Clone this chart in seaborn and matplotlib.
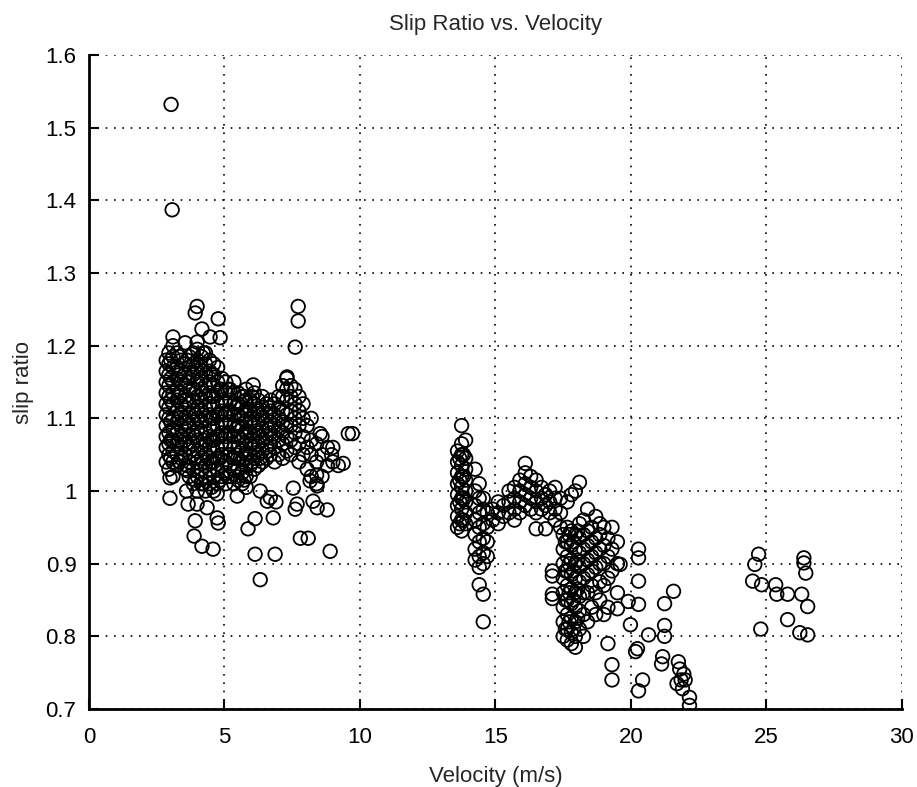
import pandas as pd
import seaborn as sns
import matplotlib.pyplot as plt

# values: (velocity, [slip ratios at that velocity])
low_speed_cols = [
    (2.85, [1.04, 1.06, 1.075, 1.09, 1.105, 1.12, 1.135, 1.15, 1.165, 1.18]),
    (2.95, [1.03, 1.05, 1.065, 1.08, 1.10, 1.115, 1.13, 1.145, 1.16, 1.175, 1.19]),
    (3.02, [1.045, 1.07, 1.095, 1.125, 1.155, 1.18]),
    (3.10, [1.02, 1.04, 1.055, 1.07, 1.085, 1.10, 1.12, 1.135, 1.15, 1.17, 1.185, 1.20]),
    (3.25, [1.035, 1.05, 1.065, 1.08, 1.095, 1.11, 1.125, 1.14, 1.155, 1.17, 1.19]),
    (3.33, [1.04, 1.07, 1.10, 1.13, 1.16, 1.185]),
    (3.40, [1.045, 1.06, 1.075, 1.09, 1.105, 1.12, 1.135, 1.15, 1.165, 1.18]),
    (3.55, [1.03, 1.05, 1.07, 1.085, 1.10, 1.115, 1.13, 1.145, 1.16, 1.175]),
    (3.62, [1.035, 1.065, 1.095, 1.125, 1.15, 1.18]),
    (3.70, [1.02, 1.04, 1.06, 1.075, 1.09, 1.105, 1.12, 1.14, 1.155, 1.17, 1.185]),
    (3.85, [1.01, 1.03, 1.05, 1.065, 1.08, 1.095, 1.11, 1.125, 1.14, 1.16, 1.175, 1.19]),
    (3.93, [1.015, 1.045, 1.075, 1.105, 1.135, 1.17]),
    (4.00, [1.00, 1.02, 1.04, 1.055, 1.07, 1.085, 1.10, 1.115, 1.13, 1.15, 1.165, 1.18, 1.195]),
    (4.15, [1.01, 1.03, 1.045, 1.06, 1.08, 1.095, 1.11, 1.125, 1.14, 1.155, 1.17, 1.185]),
    (4.22, [1.01, 1.04, 1.07, 1.105, 1.135, 1.165, 1.19]),
    (4.30, [1.00, 1.02, 1.035, 1.05, 1.065, 1.08, 1.10, 1.115, 1.13, 1.145, 1.16, 1.175, 1.19]),
    (4.45, [1.01, 1.03, 1.045, 1.06, 1.075, 1.09, 1.105, 1.12, 1.135, 1.15, 1.165, 1.18]),
    (4.52, [1.005, 1.04, 1.07, 1.10, 1.13, 1.16]),
    (4.60, [1.00, 1.02, 1.04, 1.055, 1.07, 1.085, 1.10, 1.115, 1.13, 1.145, 1.16, 1.175]),
    (4.75, [1.01, 1.03, 1.045, 1.06, 1.075, 1.09, 1.105, 1.12, 1.135, 1.15, 1.17]),
    (4.83, [1.015, 1.045, 1.075, 1.105, 1.14]),
    (4.90, [1.02, 1.035, 1.05, 1.065, 1.08, 1.095, 1.11, 1.125, 1.14, 1.155]),
    (5.05, [1.01, 1.025, 1.04, 1.06, 1.075, 1.09, 1.105, 1.12, 1.135, 1.15]),
    (5.12, [1.02, 1.05, 1.08, 1.11, 1.14]),
    (5.20, [1.02, 1.035, 1.05, 1.065, 1.08, 1.095, 1.11, 1.125, 1.14]),
    (5.35, [1.01, 1.03, 1.045, 1.06, 1.075, 1.09, 1.105, 1.12, 1.135, 1.15]),
    (5.42, [1.02, 1.05, 1.085, 1.115]),
    (5.50, [1.015, 1.03, 1.045, 1.06, 1.075, 1.09, 1.105, 1.12, 1.135]),
    (5.65, [1.01, 1.025, 1.04, 1.055, 1.07, 1.085, 1.10, 1.115, 1.13]),
    (5.72, [1.015, 1.045, 1.075, 1.105, 1.13]),
    (5.80, [1.005, 1.02, 1.035, 1.05, 1.065, 1.08, 1.095, 1.11, 1.125, 1.14]),
    (5.95, [1.02, 1.035, 1.05, 1.065, 1.08, 1.095, 1.11, 1.125]),
    (6.02, [1.04, 1.07, 1.10, 1.13]),
    (6.10, [1.03, 1.045, 1.06, 1.075, 1.09, 1.105, 1.12, 1.135]),
    (6.25, [1.035, 1.05, 1.065, 1.08, 1.095, 1.11, 1.125]),
    (6.33, [1.045, 1.075, 1.105]),
    (6.40, [1.04, 1.055, 1.07, 1.085, 1.10, 1.115, 1.13]),
    (6.55, [1.045, 1.06, 1.075, 1.09, 1.105, 1.12]),
    (6.62, [1.055, 1.085, 1.115]),
    (6.70, [1.05, 1.065, 1.08, 1.095, 1.11, 1.125]),
    (6.85, [1.04, 1.06, 1.075, 1.09, 1.105, 1.12]),
    (7.00, [1.05, 1.07, 1.085, 1.10, 1.115, 1.13]),
    (7.15, [1.045, 1.065, 1.08, 1.095, 1.11, 1.13, 1.145]),
    (7.30, [1.055, 1.075, 1.09, 1.105, 1.125, 1.14, 1.155]),
    (7.45, [1.05, 1.07, 1.09, 1.11, 1.13, 1.145]),
    (7.60, [1.06, 1.08, 1.10, 1.12, 1.14]),
    (7.75, [1.04, 1.065, 1.09, 1.11, 1.13]),
    (7.90, [1.05, 1.075, 1.10, 1.12]),
    (8.05, [1.03, 1.06, 1.09]),
    (8.20, [1.02, 1.05, 1.07, 1.10]),
    (8.40, [1.01, 1.04, 1.065]),
    (8.60, [1.02, 1.05, 1.075]),
    (8.80, [1.035, 1.06]),
    (9.00, [1.04, 1.06]),
]

low_speed_scatter_v = [3.03, 3.07, 3.99, 3.92, 4.77, 4.17, 4.47, 4.84, 3.10, 3.55, 3.99,
                       7.72, 7.72, 7.61, 6.06, 7.31, 9.57, 9.72, 9.38, 8.53,
                       2.99, 2.99, 3.66, 3.92, 3.88, 4.17, 4.58, 4.73, 4.77, 4.36,
                       5.87, 6.13, 6.13, 6.87, 6.32, 6.80, 6.58, 7.61, 8.42, 8.79,
                       7.80, 8.09, 8.90, 8.27, 8.42, 3.62, 3.60, 3.99, 4.73, 5.47,
                       6.32, 6.69, 6.90, 7.68, 7.54, 8.16, 8.40, 9.20, 8.95]
low_speed_scatter_slip = [1.532, 1.387, 1.254, 1.245, 1.237, 1.223, 1.212, 1.211, 1.212, 1.204, 1.205,
                          1.254, 1.234, 1.198, 1.146, 1.157, 1.079, 1.079, 1.038, 1.079,
                          0.990, 1.018, 0.982, 0.959, 0.938, 0.924, 0.920, 0.963, 0.956, 0.977,
                          0.948, 0.962, 0.913, 0.913, 0.878, 0.963, 0.986, 0.975, 0.977, 0.974,
                          0.935, 0.935, 0.917, 0.986, 1.007, 1.028, 1.000, 0.982, 0.996, 0.993,
                          1.000, 0.991, 0.985, 0.982, 1.004, 1.014, 1.022, 1.035, 1.05]

mid_speed_cols = [
    (13.60, [0.95, 0.965, 0.98, 0.995, 1.01, 1.025, 1.04, 1.055]),
    (13.68, [0.955, 0.985, 1.015, 1.045]),
    (13.75, [0.945, 0.96, 0.975, 0.99, 1.005, 1.02, 1.035, 1.05, 1.065, 1.09]),
    (13.82, [0.96, 0.99, 1.02, 1.05]),
    (13.90, [0.955, 0.97, 0.985, 1.00, 1.015, 1.03, 1.045, 1.07]),
    (14.25, [1.03, 1.00, 0.98, 0.96, 0.94, 0.92, 0.905]),
    (14.40, [1.01, 0.99, 0.97, 0.95, 0.93, 0.91, 0.895, 0.871]),
    (14.55, [0.99, 0.975, 0.955, 0.935, 0.915, 0.90, 0.858, 0.82]),
    (14.70, [0.97, 0.95, 0.93, 0.91]),
    (14.90, [0.96, 0.975]),
    (15.10, [0.955, 0.97, 0.985]),
    (15.30, [0.965, 0.98]),
    (15.50, [0.97, 0.985, 1.00]),
    (15.70, [0.96, 0.975, 0.99, 1.005]),
    (15.90, [0.97, 0.985, 1.00, 1.015]),
    (16.10, [0.98, 0.995, 1.01, 1.025, 1.038]),
    (16.30, [0.975, 0.99, 1.005, 1.02]),
    (16.50, [0.948, 0.97, 0.985, 1.00, 1.015]),
    (16.70, [0.975, 0.99, 1.005]),
    (16.85, [0.948, 0.98, 0.995]),
    (17.00, [0.97, 0.985, 1.00]),
    (17.10, [0.89, 0.883, 0.858, 0.852]),
    (17.20, [0.96, 0.975, 0.99, 1.005]),
    (17.40, [0.95, 0.97, 0.99]),
    (17.50, [0.94, 0.92, 0.90, 0.88, 0.86, 0.84, 0.82, 0.80]),
    (17.58, [0.93, 0.89, 0.85, 0.81]),
    (17.65, [0.985, 0.95, 0.93, 0.91, 0.89, 0.87, 0.85, 0.83, 0.81, 0.795]),
    (17.72, [0.94, 0.90, 0.86, 0.82]),
    (17.80, [0.995, 0.945, 0.925, 0.905, 0.885, 0.865, 0.845, 0.825, 0.805, 0.79]),
    (17.88, [0.93, 0.89, 0.85, 0.81]),
    (17.95, [1.00, 0.94, 0.92, 0.90, 0.88, 0.86, 0.84, 0.82, 0.80, 0.785]),
    (18.03, [0.945, 0.905, 0.865, 0.825]),
    (18.10, [1.012, 0.955, 0.935, 0.915, 0.895, 0.875, 0.855, 0.835, 0.81]),
    (18.25, [0.96, 0.94, 0.92, 0.90, 0.88, 0.86, 0.83, 0.80]),
    (18.40, [0.975, 0.945, 0.925, 0.905, 0.885, 0.86, 0.82]),
    (18.55, [0.95, 0.93, 0.91, 0.89, 0.87, 0.84]),
    (18.70, [0.965, 0.935, 0.915, 0.895, 0.86, 0.83]),
    (18.85, [0.955, 0.94, 0.92, 0.90, 0.875, 0.85]),
    (19.00, [0.95, 0.925, 0.90, 0.87, 0.83]),
    (19.15, [0.935, 0.91, 0.88, 0.84, 0.79]),
    (19.30, [0.95, 0.92, 0.89, 0.761, 0.74]),
    (19.50, [0.93, 0.90, 0.86, 0.838]),
]

high_speed_v = [20.28, 20.28, 20.28, 20.28, 19.90, 19.98, 20.65, 20.17, 20.24, 20.43, 20.28,
                19.60, 21.57, 21.24, 21.24, 21.24, 21.17, 21.13,
                21.75, 21.80, 21.95, 21.85, 21.70, 22.00, 21.90, 22.16, 22.16,
                24.71, 24.57, 24.49, 24.82, 25.34, 25.38, 25.78, 26.30, 26.52, 25.78,
                24.79, 26.23, 26.52, 26.38, 26.38, 26.45]
high_speed_slip = [0.920, 0.908, 0.876, 0.844, 0.848, 0.816, 0.802, 0.779, 0.783, 0.740, 0.725,
                   0.899, 0.862, 0.845, 0.815, 0.800, 0.772, 0.762,
                   0.765, 0.755, 0.748, 0.740, 0.735, 0.740, 0.728, 0.716, 0.705,
                   0.913, 0.899, 0.876, 0.871, 0.871, 0.858, 0.858, 0.858, 0.841, 0.823,
                   0.810, 0.805, 0.802, 0.908, 0.901, 0.887]

# build the table
vel, slip = [], []
for cols in (low_speed_cols, mid_speed_cols):
    for v, ys in cols:
        vel += [v] * len(ys)
        slip += ys
vel += low_speed_scatter_v + high_speed_v
slip += low_speed_scatter_slip + high_speed_slip
df = pd.DataFrame({'velocity': vel, 'slip': slip})

sns.set_style('white')
plt.rcParams['font.family'] = ['Liberation Sans', 'DejaVu Sans']

fig = plt.figure(figsize=(9.17, 7.87), dpi=100)
ax = fig.add_axes([0.097, 0.0991, 0.8866, 0.831])

sns.scatterplot(data=df, x='velocity', y='slip', marker='o', s=95,
                facecolors='none', edgecolor='black', linewidth=1.3, ax=ax)

ax.set_xlim(0, 30)
ax.set_ylim(0.7, 1.6)
ax.set_xticks(range(0, 31, 5))
ax.set_yticks([0.7, 0.8, 0.9, 1.0, 1.1, 1.2, 1.3, 1.4, 1.5, 1.6])
ax.set_yticklabels(['0.7', '0.8', '0.9', '1', '1.1', '1.2', '1.3', '1.4', '1.5', '1.6'])
ax.grid(True, color='black', linestyle=(0, (1, 4)), linewidth=1.2)
ax.set_axisbelow(True)
for side in ['top', 'right']:
    ax.spines[side].set_visible(False)
for side in ['left', 'bottom']:
    ax.spines[side].set_linewidth(2)
    ax.spines[side].set_color('black')
ax.tick_params(direction='in', length=7, width=1.5, labelsize=16, pad=9,
               bottom=True, left=True, colors='black')
ax.tick_params(axis='x', pad=13)

ax.set_title('Slip Ratio vs. Velocity', fontsize=16, pad=18)
ax.set_xlabel('Velocity (m/s)', fontsize=16, labelpad=13)
ax.set_ylabel('slip ratio', fontsize=16, labelpad=8)

plt.savefig('out.png', dpi=100)
